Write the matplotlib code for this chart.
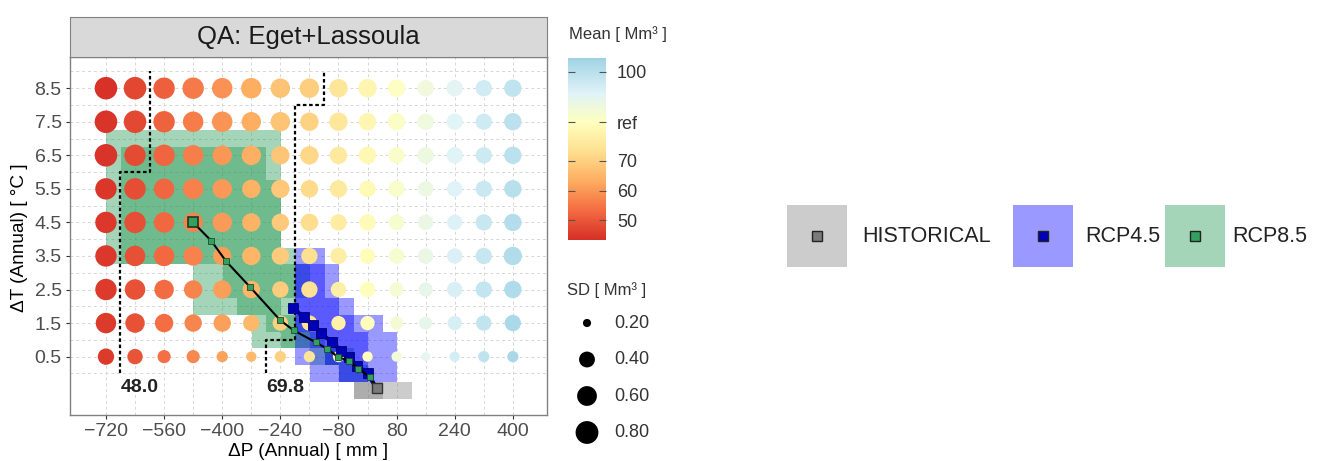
import numpy as np
import matplotlib
matplotlib.use("Agg")
import matplotlib.pyplot as plt
from matplotlib.colors import LinearSegmentedColormap, Normalize, to_rgb
from matplotlib.patches import Rectangle

plt.rcParams['font.family'] = ['Liberation Sans', 'DejaVu Sans']

# stress-test grid
dP = [-720, -640, -560, -480, -400, -320, -240, -160, -80, 0, 80, 160, 240, 320, 400]
dT = [0.5, 1.5, 2.5, 3.5, 4.5, 5.5, 6.5, 7.5, 8.5]
x_ticks = [-720, -560, -400, -240, -80, 80, 240, 400]

# mean annual volume [Mm3], one row per dT (bottom -> top)
mean_q = [
    [45.5, 49.5, 53.8, 57.6, 61.5, 65.6, 70.3, 74.8, 78.9, 83.0, 87.1, 91.0, 95.1, 99.0, 103.0],
    [45.3, 49.2, 53.5, 57.3, 61.2, 65.3, 69.5, 74.3, 78.5, 82.6, 86.7, 90.6, 94.7, 98.6, 102.5],
    [45.1, 49.0, 53.2, 57.0, 60.9, 65.0, 69.2, 73.7, 78.0, 82.2, 86.3, 90.2, 94.3, 98.2, 102.0],
    [44.9, 48.8, 52.9, 56.7, 60.6, 64.7, 68.9, 73.1, 77.5, 81.8, 85.9, 89.8, 93.9, 97.8, 101.5],
    [44.7, 48.5, 52.6, 56.4, 60.3, 64.4, 68.6, 72.5, 77.0, 81.4, 85.5, 89.4, 93.5, 97.4, 101.0],
    [44.5, 48.2, 52.3, 56.1, 60.0, 64.1, 68.3, 71.9, 76.5, 81.0, 85.1, 89.0, 93.1, 97.0, 100.5],
    [44.3, 47.8, 52.0, 55.8, 59.7, 63.8, 68.0, 71.3, 76.0, 80.6, 84.7, 88.6, 92.7, 96.6, 100.0],
    [44.1, 47.5, 51.7, 55.5, 59.4, 63.5, 67.7, 70.5, 75.5, 80.2, 84.3, 88.2, 92.3, 96.2, 99.5],
    [43.9, 47.2, 51.4, 55.2, 59.1, 63.2, 67.4, 69.5, 75.0, 79.8, 83.9, 87.8, 91.9, 95.8, 99.0],
]

# standard deviation [Mm3]
sd_q = [
    [0.42, 0.38, 0.30, 0.30, 0.25, 0.23, 0.25, 0.25, 0.25, 0.23, 0.23, 0.21, 0.23, 0.25, 0.25],
    [0.64, 0.58, 0.52, 0.47, 0.47, 0.42, 0.38, 0.38, 0.34, 0.34, 0.30, 0.30, 0.34, 0.38, 0.42],
    [0.70, 0.64, 0.58, 0.52, 0.52, 0.47, 0.42, 0.42, 0.38, 0.38, 0.34, 0.34, 0.38, 0.42, 0.47],
    [0.70, 0.64, 0.64, 0.58, 0.52, 0.52, 0.47, 0.42, 0.42, 0.38, 0.38, 0.38, 0.38, 0.42, 0.52],
    [0.70, 0.70, 0.64, 0.58, 0.58, 0.52, 0.47, 0.47, 0.42, 0.42, 0.38, 0.38, 0.38, 0.42, 0.47],
    [0.70, 0.70, 0.64, 0.64, 0.58, 0.52, 0.52, 0.47, 0.47, 0.42, 0.42, 0.38, 0.38, 0.42, 0.47],
    [0.78, 0.70, 0.70, 0.64, 0.58, 0.58, 0.52, 0.52, 0.47, 0.47, 0.42, 0.42, 0.42, 0.42, 0.47],
    [0.78, 0.78, 0.70, 0.64, 0.64, 0.58, 0.58, 0.52, 0.52, 0.47, 0.47, 0.42, 0.42, 0.42, 0.47],
    [0.78, 0.78, 0.70, 0.70, 0.64, 0.64, 0.58, 0.58, 0.52, 0.52, 0.47, 0.42, 0.42, 0.42, 0.47],
]

ref_value = 83.0
contour_levels = [48.0, 69.8]
sd_legend = [0.20, 0.40, 0.60, 0.80]

# projection densities, bins of 40 mm x 0.5 degC, top row first (dT 7.5 ... -0.5)
p_edges = list(range(-720, 121, 40))
t_edges = [-0.75 + 0.5 * k for k in range(18)]
rcp85_density = [
    "000000000000000000000",
    "111111111111000000000",
    "122222222221000000000",
    "122222222221000000000",
    "122222222222000000000",
    "122222222222000000000",
    "122222222222000000000",
    "122222222222000000000",
    "122222222222100000000",
    "000000112222210000000",
    "000000112222210000000",
    "000000111222100000000",
    "000000000012210000000",
    "000000000011221000000",
    "000000000000001210000",
    "000000000000000011000",
    "000000000000000000000",
]
rcp45_density = [
    "000000000000000000000",
    "000000000000000000000",
    "000000000000000000000",
    "000000000000000000000",
    "000000000000000000000",
    "000000000000000000000",
    "000000000000000000000",
    "000000000000000000000",
    "000000000000011000000",
    "000000000000022100000",
    "000000000000022100000",
    "000000000000022210000",
    "000000000000022221100",
    "000000000000012222110",
    "000000000000011222110",
    "000000000000001122110",
    "000000000000000000000",
]
hist_density = ["000000000000000000000"] * 16 + ["000000000000000002211"]

# mean trajectories (dP, dT)
hist_point = (25, -0.45)
rcp85_dP = [25, 8, -25, -52, -80, -111, -143, -203, -240, -323, -390, -430, -480]
rcp85_dT = [-0.45, -0.12, 0.14, 0.38, 0.48, 0.73, 0.93, 1.28, 1.58, 2.57, 3.35, 3.95, 4.5]
rcp45_dP = [25, 0, -28, -52, -74, -97, -129, -149, -176, -205]
rcp45_dT = [-0.45, 0.0, 0.23, 0.48, 0.68, 0.93, 1.19, 1.43, 1.68, 1.95]

scenarios = ["HISTORICAL", "RCP4.5", "RCP8.5"]
tile_colors = ["#808080", "#0000ff", "#20964f"]
marker_colors = ["#7a7a7a", "#0000b4", "#34a060"]
level_alpha = [0.0, 0.4, 0.65]

cmap = LinearSegmentedColormap.from_list(
    "rdylbu", ['#d73027', '#f46d43', '#fdae61', '#fee090', '#ffffbf',
               '#e0f3f8', '#abd9e9', '#74add1', '#4575b4'])
norm = Normalize(ref_value - 39.6, ref_value + 39.6)
cb_lo, cb_hi = 43.4, 104.6

W, H = 1336, 461
DPI = 100


def box(l, t, r, b):
    return [l / W, 1 - b / H, (r - l) / W, (b - t) / H]


def sd_size(sd):
    d = 6 + 17.5 * np.sqrt(np.clip((np.asarray(sd) - 0.19) / 0.66, 0, 1))
    return (d * 72 / DPI) ** 2


def density_rgba(rows, color):
    lev = np.array([[int(c) for c in r] for r in rows])
    rgba = np.zeros(lev.shape + (4,))
    rgba[..., :3] = to_rgb(color)
    rgba[..., 3] = np.take(level_alpha, lev)
    return rgba


fig = plt.figure(figsize=(W / DPI, H / DPI), dpi=DPI)
ax = fig.add_axes(box(70, 57, 547, 415))

for rows, col in zip([rcp85_density, rcp45_density, hist_density],
                     [tile_colors[2], tile_colors[1], tile_colors[0]]):
    ax.imshow(density_rgba(rows, col),
              extent=(p_edges[0], p_edges[-1], t_edges[0], t_edges[-1]),
              origin='upper', aspect='auto', interpolation='nearest', zorder=1)

PP, TT = np.meshgrid(dP, dT)
ax.scatter(PP.ravel(), TT.ravel(), s=sd_size(np.ravel(sd_q)), c=np.ravel(mean_q),
           cmap=cmap, norm=norm, edgecolors='none', zorder=2)

# step contours between grid cells
for lev in contour_levels:
    xs, ys = [], []
    for i, row in enumerate(mean_q):
        j = next(k for k, v in enumerate(row) if v > lev)
        xb = (dP[j - 1] + dP[j]) / 2
        xs += [xb, xb]
        ys += [dT[i] - 0.5, dT[i] + 0.5]
    ax.plot(xs, ys, color='black', lw=1.6, ls=(0, (1.6, 1.2)), zorder=3)
    ax.text(xs[0] + 54, -0.42, f'{lev:.1f}', ha='center', va='center',
            fontsize=14, fontweight='bold', color='#222222', zorder=6)

# trajectories
ax.plot(rcp45_dP, rcp45_dT, color=marker_colors[1], lw=3, zorder=4)
ax.plot(rcp45_dP[1:], rcp45_dT[1:], 's', ms=7, mfc=marker_colors[1], mec='#000070',
        mew=0.6, zorder=4)
ax.plot(rcp85_dP, rcp85_dT, color='black', lw=1.5, zorder=5)
ax.plot(rcp85_dP[1:-1], rcp85_dT[1:-1], 's', ms=3.8, mfc=marker_colors[2], mec='#1a4a2a',
        mew=0.6, zorder=5)
ax.plot(rcp85_dP[-1], rcp85_dT[-1], 's', ms=7, mfc=marker_colors[2], mec='#1a3a22',
        mew=1.2, zorder=5)
ax.plot(*hist_point, 's', ms=6.5, mfc=marker_colors[0], mec='#333333', mew=1, zorder=5)

ax.set_xlim(-819, 494)
ax.set_ylim(-1.24, 9.43)
ax.set_xticks(x_ticks)
ax.set_xticks([-640, -480, -320, -160, 0, 160, 320], minor=True)
ax.set_yticks(dT)
ax.set_yticks([0, 1, 2, 3, 4, 5, 6, 7, 8, 9], minor=True)
ax.set_yticklabels([f'{t:.1f}' for t in dT])
ax.grid(which='both', color='#d6d6d6', lw=0.7, ls=(0, (3, 3)))
ax.set_axisbelow(True)
ax.tick_params(which='minor', length=0)
ax.tick_params(which='major', length=3, color='#333333', labelcolor='#4d4d4d',
               labelsize=14, pad=3)
for sp in ax.spines.values():
    sp.set_color('#808080')
    sp.set_linewidth(1)

fig.text(308.5 / W, 1 - 451 / H, 'ΔP (Annual) [ mm ]', ha='center', va='center',
         fontsize=13.7)
fig.text(20 / W, 1 - 238 / H, 'ΔT (Annual) [ °C ]', ha='center', va='center',
         rotation=90, fontsize=13.7)

# facet strip
sax = fig.add_axes(box(70, 17, 547, 57))
sax.set_facecolor('#d9d9d9')
sax.set_xticks([])
sax.set_yticks([])
for sp in sax.spines.values():
    sp.set_color('#808080')
sax.text(0.5, 0.5, 'QA: Eget+Lassoula', ha='center', va='center', fontsize=18.5,
         color='#1a1a1a', transform=sax.transAxes)

# colour bar
cax = fig.add_axes(box(568, 58, 606, 240))
grad = np.linspace(cb_lo, cb_hi, 256)[:, None]
cax.imshow(grad, extent=(0, 1, cb_lo, cb_hi), origin='lower', aspect='auto',
           cmap=cmap, norm=norm)
cax.set_xticks([])
cax.yaxis.tick_right()
cax.set_yticks([50, 60, 70, ref_value, 100])
cax.set_yticklabels(['50', '60', '70', 'ref', '100'])
cax.tick_params(axis='y', direction='in', length=5, left=True, right=True,
                color='#555555', labelcolor='#333333', labelsize=13, pad=8)
for sp in cax.spines.values():
    sp.set_visible(False)
fig.text(569 / W, 1 - 34 / H, 'Mean [ Mm³ ]', ha='left', va='center', fontsize=12,
         color='#333333')

# legends drawn in pixel space
lax = fig.add_axes([0, 0, 1, 1])
lax.set_xlim(0, W)
lax.set_ylim(H, 0)
lax.axis('off')

lax.text(567, 290, 'SD [ Mm³ ]', ha='left', va='center', fontsize=12, color='#333333')
for k, v in enumerate(sd_legend):
    y = 323 + 36.5 * k
    lax.scatter(587, y, s=sd_size(v), color='black', edgecolors='none')
    lax.text(614, y, f'{v:.2f}', ha='left', va='center', fontsize=13, color='#333333')

key_x = [787, 1013, 1165]
lab_x = [862, 1085, 1232]
for name, tc, mc, kx, tx in zip(scenarios, tile_colors, marker_colors, key_x, lab_x):
    lax.add_patch(Rectangle((kx, 205), 60, 62, facecolor=tc, alpha=0.4, edgecolor='none'))
    lax.plot(kx + 30, 236, 's', ms=7, mfc=mc, mec='#222222', mew=1)
    lax.text(tx, 236, name, ha='left', va='center', fontsize=15.5, color='#222222')

fig.savefig('out.png', dpi=DPI)
